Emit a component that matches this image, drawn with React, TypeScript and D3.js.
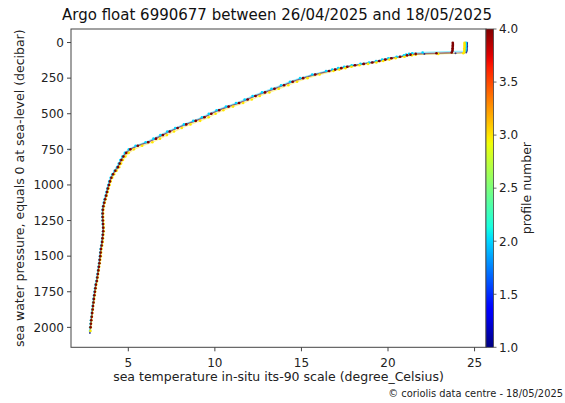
import React from "react";
import * as d3 from "d3";

const TITLE = "Argo float 6990677 between 26/04/2025 and 18/05/2025";
const X_LABEL = "sea temperature in-situ its-90 scale (degree_Celsius)";
const Y_LABEL = "sea water pressure, equals 0 at sea-level (decibar)";
const CB_LABEL = "profile number";
const CREDIT = "\u00a9 coriolis data centre - 18/05/2025";

const X_TICKS = [5, 10, 15, 20, 25];
const Y_TICKS = [0, 250, 500, 750, 1000, 1250, 1500, 1750, 2000];
const CB_TICKS = [1.0, 1.5, 2.0, 2.5, 3.0, 3.5, 4.0];
const PROFILE_NUMBERS = [1, 2, 3, 4];

const PRESSURE = [
  2, 10, 20, 30, 40, 50, 60, 70, 75, 80, 85, 90, 100, 110, 120, 130, 140, 150, 160, 170, 180, 190, 200,
  225, 250, 275, 300, 325, 350, 375, 400, 425, 450, 475, 500, 525, 550, 575, 600, 625, 650, 675, 700,
  725, 750, 775, 800, 825, 850, 875, 900, 925, 950, 975, 1000, 1025, 1050, 1075, 1100, 1125, 1150,
  1175, 1200, 1225, 1250, 1275, 1300, 1325, 1350, 1375, 1400, 1425, 1450, 1475, 1500, 1525, 1550,
  1575, 1600, 1625, 1650, 1675, 1700, 1725, 1750, 1775, 1800, 1825, 1850, 1875, 1900, 1925, 1950,
  1975, 2000, 2025, 2040,
];

const TEMP_P1 = [
  24.57, 24.57, 24.57, 24.57, 24.56, 24.56, 24.55, 24.52, 23.9, 22.1, 21.35, 21.12, 20.68, 20.16, 19.8,
  19.46, 19.05, 18.56, 18.05, 17.62, 17.27, 16.92, 16.56, 15.76, 15.07, 14.47, 13.96, 13.42, 12.86,
  12.32, 11.86, 11.37, 10.76, 10.22, 9.77, 9.36, 8.86, 8.31, 7.82, 7.36, 6.96, 6.56, 6.12, 5.52, 5.1,
  4.86, 4.7, 4.58, 4.48, 4.38, 4.23, 4.1, 4.0, 3.92, 3.86, 3.8, 3.75, 3.7, 3.64, 3.59, 3.55, 3.52, 3.51,
  3.51, 3.52, 3.53, 3.54, 3.54, 3.52, 3.5, 3.48, 3.45, 3.41, 3.39, 3.37, 3.34, 3.32, 3.29, 3.26, 3.23,
  3.2, 3.17, 3.12, 3.09, 3.06, 3.03, 3.0, 2.98, 2.95, 2.93, 2.9, 2.88, 2.85, 2.83, 2.81, 2.79, 2.78,
];
const TEMP_P2 = [
  24.5, 24.5, 24.5, 24.49, 24.49, 24.48, 24.46, 22.0, 21.4, 21.22, 21.05, 20.92, 20.5, 20.02, 19.66,
  19.31, 18.9, 18.41, 17.9, 17.47, 17.12, 16.78, 16.42, 15.62, 14.92, 14.34, 13.82, 13.27, 12.72,
  12.18, 11.72, 11.22, 10.64, 10.1, 9.65, 9.25, 8.75, 8.21, 7.71, 7.25, 6.85, 6.45, 6.0, 5.42, 5.03, 4.8,
  4.66, 4.54, 4.45, 4.35, 4.21, 4.08, 3.98, 3.9, 3.84, 3.79, 3.74, 3.69, 3.63, 3.58, 3.54, 3.51, 3.5,
  3.5, 3.51, 3.52, 3.54, 3.54, 3.52, 3.5, 3.47, 3.44, 3.4, 3.38, 3.36, 3.34, 3.31, 3.28, 3.25, 3.22,
  3.19, 3.16, 3.11, 3.08, 3.05, 3.02, 2.99, 2.97, 2.94, 2.92, 2.89, 2.87, 2.84, 2.82, 2.8, 2.79,
];
const TEMP_P3 = [
  24.42, 24.42, 24.42, 24.42, 24.41, 24.41, 24.41, 24.4, 24.35, 22.9, 21.6, 21.38, 20.95, 20.44, 20.08,
  19.72, 19.33, 18.85, 18.35, 17.89, 17.54, 17.19, 16.85, 16.05, 15.35, 14.75, 14.24, 13.69, 13.15,
  12.59, 12.13, 11.63, 11.05, 10.49, 10.04, 9.64, 9.15, 8.59, 8.09, 7.64, 7.23, 6.83, 6.39, 5.8, 5.32,
  5.02, 4.83, 4.69, 4.58, 4.47, 4.32, 4.18, 4.07, 3.98, 3.92, 3.86, 3.81, 3.75, 3.69, 3.64, 3.59, 3.56,
  3.55, 3.55, 3.56, 3.57, 3.58, 3.58, 3.56, 3.54, 3.52, 3.49, 3.45, 3.43, 3.41, 3.38, 3.35, 3.32, 3.29,
  3.26, 3.23, 3.2, 3.15, 3.12, 3.09, 3.06, 3.03, 3.0, 2.97, 2.95, 2.92, 2.9, 2.87, 2.85, 2.83, 2.81,
];
const TEMP_P4 = [
  23.74, 23.75, 23.74, 23.74, 23.73, 23.73, 23.72, 23.68, 22.8, 21.6, 21.3, 21.1, 20.7, 20.2, 19.85,
  19.5, 19.1, 18.6, 18.1, 17.65, 17.3, 16.95, 16.6, 15.8, 15.1, 14.5, 14.0, 13.45, 12.9, 12.35, 11.9,
  11.4, 10.8, 10.25, 9.8, 9.4, 8.9, 8.35, 7.85, 7.4, 7.0, 6.6, 6.15, 5.55, 5.12, 4.88, 4.72, 4.6, 4.5,
  4.4, 4.25, 4.12, 4.02, 3.94, 3.88, 3.82, 3.77, 3.72, 3.66, 3.61, 3.56, 3.53, 3.52, 3.52, 3.53, 3.54,
  3.55, 3.55, 3.53, 3.51, 3.49, 3.46, 3.42, 3.4, 3.38, 3.35, 3.33, 3.3, 3.27, 3.24, 3.21, 3.18, 3.13,
  3.1, 3.07, 3.04, 3.01, 2.99, 2.96, 2.94, 2.91, 2.89, 2.86, 2.84, 2.82,
];
const TEMPS = [TEMP_P1, TEMP_P2, TEMP_P3, TEMP_P4];

// matplotlib "jet" segment data
const JET_R: [number, number][] = [[0, 0], [0.35, 0], [0.66, 1], [0.89, 1], [1, 0.5]];
const JET_G: [number, number][] = [[0, 0], [0.125, 0], [0.375, 1], [0.64, 1], [0.91, 0], [1, 0]];
const JET_B: [number, number][] = [[0, 0.5], [0.11, 1], [0.34, 1], [0.65, 0], [1, 0]];

function seg(s: [number, number][], t: number) {
  for (let i = 1; i < s.length; i++) {
    if (t <= s[i][0]) {
      const [x0, y0] = s[i - 1];
      const [x1, y1] = s[i];
      return y0 + ((t - x0) / (x1 - x0)) * (y1 - y0);
    }
  }
  return s[s.length - 1][1];
}
function jet(t: number) {
  return d3.rgb(seg(JET_R, t) * 255, seg(JET_G, t) * 255, seg(JET_B, t) * 255).formatHex();
}

const W = 565;
const H = 403;
const L = 71;
const R = 486;
const T = 29;
const B = 347.3;
const CB_L = 486;
const CB_R = 493.5;
const FONT = "DejaVu Sans, sans-serif";
const TICK_FS = 12;
const LABEL_FS = 12.5;

export default function App() {
  const x = d3.scaleLinear().domain([1.69, 25.66]).range([L, R]);
  const y = d3.scaleLinear().domain([-95, 2140]).range([T, B]);
  const cb = d3.scaleLinear().domain([1, 4]).range([B, T]);
  const color = (p: number) => jet((p - 1) / 3);

  const line = d3
    .line<[number, number]>()
    .x((d) => x(d[1]))
    .y((d) => y(d[0]));

  const profiles = TEMPS.map((temps, i) => ({
    num: PROFILE_NUMBERS[i],
    pts: temps.map((t, j) => [PRESSURE[j], t] as [number, number]),
  }));

  const stops = d3.range(0, 1.0001, 0.02);

  return (
    <svg width={W} height={H} style={{ position: "absolute", left: 0, top: 0, background: "#fff" }}>
      <defs>
        <linearGradient id="jetgrad" x1="0" y1="1" x2="0" y2="0">
          {stops.map((s) => (
            <stop key={s} offset={s} stopColor={jet(s)} />
          ))}
        </linearGradient>
        <clipPath id="plotclip">
          <rect x={L} y={T} width={R - L} height={B - T} />
        </clipPath>
      </defs>
      <rect x={0} y={0} width={W} height={H} fill="#fff" />

      <g clipPath="url(#plotclip)">
        {profiles.map((p) => (
          <path
            key={"l" + p.num}
            d={line(p.pts) || ""}
            fill="none"
            stroke={color(p.num)}
            strokeWidth={1.3}
            strokeOpacity={0.4}
          />
        ))}
        {profiles.map((p) => (
          <g key={p.num}>
            {p.pts.map((d, j) => (
              <circle
                key={j}
                cx={x(d[1])}
                cy={y(d[0])}
                r={p.num === 1 ? 1.0 : 1.3}
                fill={color(p.num)}
                fillOpacity={p.num === 1 ? 0.7 : 1}
              />
            ))}
          </g>
        ))}
      </g>

      {/* axes frame */}
      <rect x={L} y={T} width={R - L} height={B - T} fill="none" stroke="#444" strokeWidth={1} />

      {/* x ticks */}
      {X_TICKS.map((v) => (
        <g key={v}>
          <line x1={x(v)} x2={x(v)} y1={B} y2={B + 4} stroke="#444" />
          <text x={x(v)} y={367} textAnchor="middle" fontSize={TICK_FS} fontFamily={FONT} fill="#222">
            {v}
          </text>
        </g>
      ))}
      {/* y ticks */}
      {Y_TICKS.map((v) => (
        <g key={v}>
          <line x1={L - 4} x2={L} y1={y(v)} y2={y(v)} stroke="#444" />
          <text x={L - 7} y={y(v)} dy="0.36em" textAnchor="end" fontSize={TICK_FS} fontFamily={FONT} fill="#222">
            {v}
          </text>
        </g>
      ))}

      {/* colorbar */}
      <rect x={CB_L} y={T} width={CB_R - CB_L} height={B - T} fill="url(#jetgrad)" />
      <rect x={CB_L} y={T} width={CB_R - CB_L} height={B - T} fill="none" stroke="#444" strokeWidth={0.8} />
      {CB_TICKS.map((v) => (
        <g key={v}>
          <line x1={CB_R} x2={CB_R + 3} y1={cb(v)} y2={cb(v)} stroke="#444" strokeWidth={0.8} />
          <text x={CB_R + 5.5} y={cb(v)} dy="0.36em" fontSize={TICK_FS} fontFamily={FONT} fill="#222">
            {v.toFixed(1)}
          </text>
        </g>
      ))}
      <text
        transform={`translate(531, ${(T + B) / 2}) rotate(-90)`}
        textAnchor="middle"
        fontSize={LABEL_FS}
        fontFamily={FONT}
        fill="#222"
      >
        {CB_LABEL}
      </text>

      {/* labels */}
      <text x={277} y={20} textAnchor="middle" fontSize={15} fontFamily={FONT} fill="#111">
        {TITLE}
      </text>
      <text x={(L + R) / 2} y={381} textAnchor="middle" fontSize={LABEL_FS} fontFamily={FONT} fill="#222">
        {X_LABEL}
      </text>
      <text
        transform={`translate(24, ${(T + B) / 2}) rotate(-90)`}
        textAnchor="middle"
        fontSize={LABEL_FS}
        fontFamily={FONT}
        fill="#222"
      >
        {Y_LABEL}
      </text>
      <text x={563} y={397} textAnchor="end" fontSize={9.9} fontFamily={FONT} fill="#222">
        {CREDIT}
      </text>
    </svg>
  );
}
